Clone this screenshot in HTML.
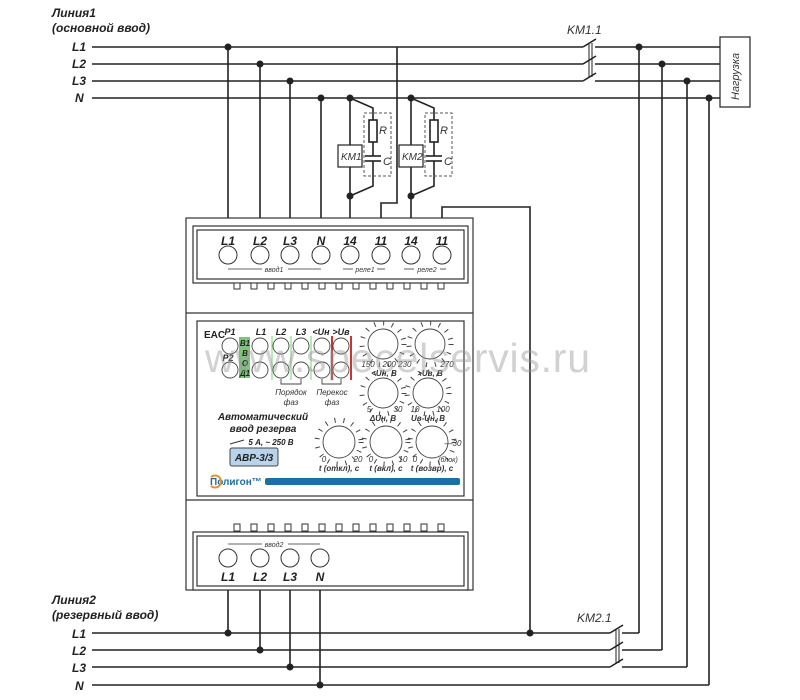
<!DOCTYPE html>
<html><head><meta charset="utf-8"><style>
html,body{margin:0;padding:0;background:#fff;}
svg{display:block;font-family:"Liberation Sans",sans-serif;}
.t{font-style:italic;font-weight:bold;fill:#222;}
.s{font-style:italic;fill:#333;}
</style></head><body>
<svg width="800" height="700" viewBox="0 0 800 700" xmlns="http://www.w3.org/2000/svg">
<g stroke="#222" stroke-width="1.6" fill="none">
<line x1="92" y1="47" x2="583" y2="47"/>
<line x1="92" y1="64" x2="583" y2="64"/>
<line x1="92" y1="81" x2="583" y2="81"/>
<line x1="92" y1="98" x2="720" y2="98"/>
<line x1="595" y1="47" x2="720" y2="47"/>
<line x1="595" y1="64" x2="720" y2="64"/>
<line x1="595" y1="81" x2="720" y2="81"/>
<line x1="583" y1="47" x2="596" y2="39"/>
<line x1="583" y1="64" x2="596" y2="56"/>
<line x1="583" y1="81" x2="596" y2="73"/>
<line x1="589" y1="43" x2="589" y2="77" stroke-width="1"/>
<line x1="592" y1="43" x2="592" y2="77" stroke-width="1"/>
<line x1="639" y1="47" x2="639" y2="633"/>
<line x1="662" y1="64" x2="662" y2="650"/>
<line x1="687" y1="81" x2="687" y2="667"/>
<line x1="709" y1="98" x2="709" y2="685"/>
<line x1="92" y1="633" x2="610" y2="633"/>
<line x1="92" y1="650" x2="610" y2="650"/>
<line x1="92" y1="667" x2="610" y2="667"/>
<line x1="92" y1="685" x2="709" y2="685"/>
<line x1="622" y1="633" x2="639" y2="633"/>
<line x1="622" y1="650" x2="662" y2="650"/>
<line x1="622" y1="667" x2="687" y2="667"/>
<line x1="610" y1="633" x2="623" y2="625"/>
<line x1="610" y1="650" x2="623" y2="642"/>
<line x1="610" y1="667" x2="623" y2="659"/>
<line x1="616" y1="629" x2="616" y2="663" stroke-width="1"/>
<line x1="619" y1="629" x2="619" y2="663" stroke-width="1"/>
<line x1="228" y1="47" x2="228" y2="226"/>
<line x1="260" y1="64" x2="260" y2="226"/>
<line x1="290" y1="81" x2="290" y2="226"/>
<line x1="321" y1="98" x2="321" y2="226"/>
<line x1="350" y1="98" x2="350" y2="226"/>
<line x1="411" y1="98" x2="411" y2="226"/>
<polyline points="397,47 397,203 381,203 381,226"/>
<polyline points="442,226 442,207 530,207 530,633"/>
<line x1="228" y1="590" x2="228" y2="633"/>
<line x1="260" y1="590" x2="260" y2="650"/>
<line x1="290" y1="590" x2="290" y2="667"/>
<line x1="320" y1="590" x2="320" y2="685"/>
<polyline points="350,98 373,108 373,120"/>
<rect x="369" y="120" width="8" height="22" fill="#fff"/>
<line x1="373" y1="142" x2="373" y2="156"/>
<line x1="365" y1="156" x2="381" y2="156"/>
<line x1="365" y1="161" x2="381" y2="161"/>
<polyline points="373,161 373,186 350,196"/>
<polyline points="411,98 434,108 434,120"/>
<rect x="430" y="120" width="8" height="22" fill="#fff"/>
<line x1="434" y1="142" x2="434" y2="156"/>
<line x1="426" y1="156" x2="442" y2="156"/>
<line x1="426" y1="161" x2="442" y2="161"/>
<polyline points="434,161 434,186 411,196"/>
<rect x="364" y="113" width="27" height="63" stroke-dasharray="3,2" stroke-width="1" stroke="#555"/>
<rect x="425" y="113" width="27" height="63" stroke-dasharray="3,2" stroke-width="1" stroke="#555"/>
<rect x="338" y="145" width="24" height="22" fill="#fff" stroke-width="1.2"/>
<rect x="399" y="145" width="24" height="22" fill="#fff" stroke-width="1.2"/>
<rect x="720" y="37" width="30" height="70" fill="#fff" stroke-width="1.2"/>
</g>
<g fill="#222">
<circle cx="228" cy="47" r="3.5"/><circle cx="260" cy="64" r="3.5"/><circle cx="290" cy="81" r="3.5"/><circle cx="321" cy="98" r="3.5"/>
<circle cx="350" cy="98" r="3.5"/><circle cx="411" cy="98" r="3.5"/><circle cx="350" cy="196" r="3.5"/><circle cx="411" cy="196" r="3.5"/>
<circle cx="639" cy="47" r="3.5"/><circle cx="662" cy="64" r="3.5"/><circle cx="687" cy="81" r="3.5"/><circle cx="709" cy="98" r="3.5"/>
<circle cx="228" cy="633" r="3.5"/><circle cx="260" cy="650" r="3.5"/><circle cx="290" cy="667" r="3.5"/><circle cx="320" cy="685" r="3.5"/>
<circle cx="530" cy="633" r="3.5"/>
</g>
<g font-size="11" class="s">
<text x="341" y="160" font-size="10">KM1</text><text x="402" y="160" font-size="10">KM2</text>
<text x="379" y="134">R</text><text x="383" y="165">C</text>
<text x="440" y="134">R</text><text x="444" y="165">C</text>
<text x="567" y="34" font-size="12">KM1.1</text>
<text x="577" y="622" font-size="12">KM2.1</text>
<text transform="translate(739,100) rotate(-90)" font-size="11">Нагрузка</text>
</g>
<g class="t" font-size="12">
<text x="52" y="17">Линия1</text><text x="52" y="32">(основной ввод)</text>
<text x="72" y="51">L1</text><text x="72" y="68">L2</text><text x="72" y="85">L3</text><text x="75" y="102">N</text>
<text x="52" y="604">Линия2</text><text x="52" y="619">(резервный ввод)</text>
<text x="72" y="638">L1</text><text x="72" y="655">L2</text><text x="72" y="672">L3</text><text x="75" y="690">N</text>
</g>
<g stroke="#333" stroke-width="1.2" fill="#fff">
<rect x="186" y="218" width="287" height="372"/>
<rect x="193" y="226" width="275" height="57"/>
<rect x="197" y="230" width="267" height="49" fill="none"/>
<line x1="186" y1="313" x2="473" y2="313"/>
<rect x="197" y="321" width="267" height="175"/>
<line x1="186" y1="500" x2="473" y2="500"/>
<rect x="193" y="532" width="275" height="58"/>
<rect x="197" y="536" width="267" height="50" fill="none"/>
</g>
<g stroke="#333" stroke-width="1" fill="#fff">
<circle cx="228" cy="255" r="9"/><circle cx="260" cy="255" r="9"/><circle cx="290" cy="255" r="9"/><circle cx="321" cy="255" r="9"/>
<circle cx="350" cy="255" r="9"/><circle cx="381" cy="255" r="9"/><circle cx="411" cy="255" r="9"/><circle cx="442" cy="255" r="9"/>
<circle cx="228" cy="558" r="9"/><circle cx="260" cy="558" r="9"/><circle cx="290" cy="558" r="9"/><circle cx="320" cy="558" r="9"/>
</g>
<g fill="#fff" stroke="#333" stroke-width="1">
<rect x="234" y="283" width="6" height="6"/><rect x="251" y="283" width="6" height="6"/><rect x="268" y="283" width="6" height="6"/><rect x="285" y="283" width="6" height="6"/><rect x="302" y="283" width="6" height="6"/><rect x="319" y="283" width="6" height="6"/><rect x="336" y="283" width="6" height="6"/><rect x="353" y="283" width="6" height="6"/><rect x="370" y="283" width="6" height="6"/><rect x="387" y="283" width="6" height="6"/><rect x="404" y="283" width="6" height="6"/><rect x="421" y="283" width="6" height="6"/><rect x="438" y="283" width="6" height="6"/>
<rect x="234" y="524" width="6" height="7"/><rect x="251" y="524" width="6" height="7"/><rect x="268" y="524" width="6" height="7"/><rect x="285" y="524" width="6" height="7"/><rect x="302" y="524" width="6" height="7"/><rect x="319" y="524" width="6" height="7"/><rect x="336" y="524" width="6" height="7"/><rect x="353" y="524" width="6" height="7"/><rect x="370" y="524" width="6" height="7"/><rect x="387" y="524" width="6" height="7"/><rect x="404" y="524" width="6" height="7"/><rect x="421" y="524" width="6" height="7"/><rect x="438" y="524" width="6" height="7"/>
</g>
<g class="t" font-size="12" text-anchor="middle">
<text x="228" y="245">L1</text><text x="260" y="245">L2</text><text x="290" y="245">L3</text><text x="321" y="245">N</text>
<text x="350" y="245">14</text><text x="381" y="245">11</text><text x="411" y="245">14</text><text x="442" y="245">11</text>
<text x="228" y="581">L1</text><text x="260" y="581">L2</text><text x="290" y="581">L3</text><text x="320" y="581">N</text>
</g>
<g class="s" font-size="7" text-anchor="middle">
<text x="274" y="272">ввод1</text><text x="365" y="272">реле1</text><text x="427" y="272">реле2</text>
<text x="274" y="547">ввод2</text>
</g>
<g stroke="#333" stroke-width="0.8">
<line x1="228" y1="269" x2="262" y2="269"/><line x1="288" y1="269" x2="321" y2="269"/>
<line x1="343" y1="269" x2="353" y2="269"/><line x1="377" y1="269" x2="385" y2="269"/>
<line x1="404" y1="269" x2="414" y2="269"/><line x1="440" y1="269" x2="446" y2="269"/>
<line x1="228" y1="544" x2="262" y2="544"/><line x1="288" y1="544" x2="320" y2="544"/>
</g>
<rect x="239" y="337" width="11" height="41" fill="#7cc47a"/>
<g stroke="#8d8" stroke-width="1.2"><line x1="272" y1="336" x2="272" y2="380"/><line x1="291" y1="336" x2="291" y2="380"/><line x1="311" y1="336" x2="311" y2="380"/></g>
<g stroke="#c33" stroke-width="2"><line x1="332" y1="336" x2="332" y2="380"/><line x1="351" y1="336" x2="351" y2="380"/></g>
<g stroke="#444" stroke-width="0.9" fill="none">
<circle cx="230" cy="346" r="8"/><circle cx="260" cy="346" r="8"/><circle cx="281" cy="346" r="8"/><circle cx="301" cy="346" r="8"/><circle cx="322" cy="346" r="8"/><circle cx="341" cy="346" r="8"/>
<circle cx="230" cy="370" r="8"/><circle cx="260" cy="370" r="8"/><circle cx="281" cy="370" r="8"/><circle cx="301" cy="370" r="8"/><circle cx="322" cy="370" r="8"/><circle cx="341" cy="370" r="8"/>
<polyline points="281,379 281,384 301,384 301,379"/><polyline points="322,379 322,384 341,384 341,379"/>
</g>
<g class="t" font-size="9" text-anchor="middle">
<text x="230" y="335">P1</text><text x="261" y="335">L1</text><text x="281" y="335">L2</text><text x="301" y="335">L3</text><text x="321" y="335">&lt;Uн</text><text x="341" y="335">&gt;Uв</text>
<text x="228" y="361">P2</text>
<text x="245" y="346" font-size="8">В1</text><text x="245" y="356" font-size="8">В</text><text x="245" y="366" font-size="8">О</text><text x="245" y="376" font-size="8">Д1</text>
</g>
<text x="204" y="338" font-size="10" font-weight="bold" fill="#222">EAC</text>
<g class="s" font-size="8" text-anchor="middle">
<text x="291" y="395">Порядок</text><text x="291" y="405">фаз</text>
<text x="332" y="395">Перекос</text><text x="332" y="405">фаз</text>
</g>
<g stroke="#444" stroke-width="0.9" fill="#fff">
<circle cx="383" cy="344" r="15"/><circle cx="430" cy="344" r="15"/>
<circle cx="383" cy="393" r="15"/><circle cx="428" cy="393" r="15"/>
<circle cx="339" cy="442" r="16"/><circle cx="386" cy="442" r="16"/><circle cx="432" cy="442" r="16"/>
</g>
<g stroke="#444" stroke-width="5" stroke-dasharray="1,8" fill="none">
<circle cx="383" cy="344" r="21"/><circle cx="430" cy="344" r="21"/>
<circle cx="383" cy="393" r="21"/><circle cx="428" cy="393" r="21"/>
<circle cx="339" cy="442" r="22"/><circle cx="386" cy="442" r="22"/><circle cx="432" cy="442" r="22"/>
</g>
<g class="s" font-size="8" text-anchor="middle">
<text x="368" y="367">150</text><text x="397" y="367">200 230</text><text x="447" y="367">270</text>
<text x="384" y="376" font-weight="bold">&lt;Uн, В</text><text x="430" y="376" font-weight="bold">&gt;Uв, В</text>
<text x="369" y="412">5</text><text x="398" y="412">30</text><text x="415" y="412">10</text><text x="443" y="412">100</text>
<text x="383" y="421" font-weight="bold">ΔUн, В</text><text x="428" y="421" font-weight="bold">Uв-Uн, В</text>
<text x="324" y="462">0</text><text x="358" y="462">20</text><text x="371" y="462">0</text><text x="403" y="462">10</text><text x="415" y="462">0</text><text x="448" y="462" font-size="7">(блок)</text>
<text x="453" y="446">—30</text>
<text x="339" y="471" font-weight="bold">t (откл), с</text><text x="386" y="471" font-weight="bold">t (вкл), с</text><text x="432" y="471" font-weight="bold">t (возвр), с</text>
</g>
<g class="t" text-anchor="middle">
<text x="263" y="420" font-size="10">Автоматический</text>
<text x="263" y="432" font-size="10">ввод резерва</text>
<text x="271" y="445" font-size="8">5 А, ~ 250 В</text>
</g>
<line x1="230" y1="444" x2="244" y2="440" stroke="#333"/>
<rect x="230" y="448" width="48" height="18" rx="2" fill="#b9d3ea" stroke="#444"/>
<text x="254" y="461" text-anchor="middle" class="t" font-size="10">АВР-3/3</text>
<text x="210" y="485" font-size="10" font-weight="bold" fill="#1d6fa3">Полигон™</text>
<path d="M211 477 a6 6 0 1 1 0 9" stroke="#e8922a" stroke-width="2" fill="none"/>
<rect x="265" y="478" width="195" height="7" rx="2" fill="#1d6fa3"/>
<text x="205" y="372" font-size="41" fill="#999" fill-opacity="0.45" textLength="385">www.specelservis.ru</text>
</svg>
</body></html>
